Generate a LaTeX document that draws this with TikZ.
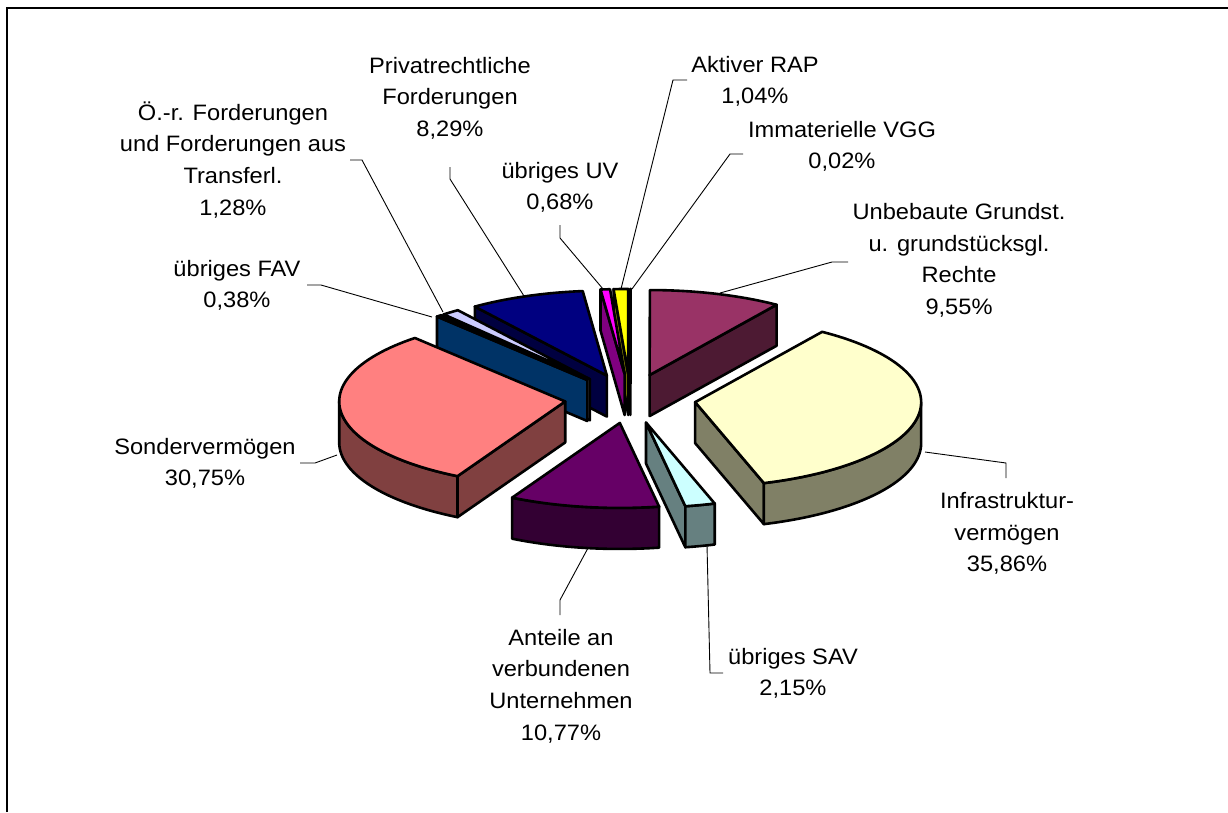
\documentclass[tikz,border=0pt]{standalone}
\usepackage{fontspec}
\setmainfont[FakeStretch=1.06]{Liberation Sans}
\definecolor{imT}{HTML}{9999FF}\definecolor{imS}{HTML}{4D4D80}
\definecolor{unT}{HTML}{993366}\definecolor{unS}{HTML}{4D1A33}
\definecolor{inT}{HTML}{FFFFCC}\definecolor{inS}{HTML}{808066}
\definecolor{saT}{HTML}{CCFFFF}\definecolor{saS}{HTML}{668080}
\definecolor{anT}{HTML}{660066}\definecolor{anS}{HTML}{330033}
\definecolor{soT}{HTML}{FF8080}\definecolor{soS}{HTML}{804040}
\definecolor{faT}{HTML}{0066CC}\definecolor{faS}{HTML}{003366}
\definecolor{orT}{HTML}{CCCCFF}\definecolor{orS}{HTML}{666680}
\definecolor{prT}{HTML}{000080}\definecolor{prS}{HTML}{000040}
\definecolor{uvT}{HTML}{FF00FF}\definecolor{uvS}{HTML}{800080}
\definecolor{raT}{HTML}{FFFF00}\definecolor{raS}{HTML}{808000}
\def\pcx{630.3}\def\pcy{398.6}\def\ra{226}\def\rb{85}\def\ex{0.29}\def\pdep{41}
\newcommand{\setapex}[2]{%
 \pgfmathsetmacro{\ax}{\pcx+\ex*\ra*cos((#1+#2)/2)}%
 \pgfmathsetmacro{\ay}{\pcy-\ex*\rb*sin((#1+#2)/2)}}
\newcommand{\topface}[3]{%
 \filldraw[edge,fill=#3] ({\ax},{\ay}) -- plot[domain=#1:#2,samples=60] ({\ax+\ra*cos(\x)},{\ay-\rb*sin(\x)}) -- cycle;}
\newcommand{\radface}[2]{%
 \filldraw[edge,fill=#2] ({\ax},{\ay}) -- ({\ax+\ra*cos(#1)},{\ay-\rb*sin(#1)}) -- ({\ax+\ra*cos(#1)},{\ay-\rb*sin(#1)+\pdep}) -- ({\ax},{\ay+\pdep}) -- cycle;}
\newcommand{\rimface}[3]{%
 \filldraw[edge,fill=#3] plot[domain=#1:#2,samples=60] ({\ax+\ra*cos(\x)},{\ay-\rb*sin(\x)}) -- plot[domain=#2:#1,samples=60] ({\ax+\ra*cos(\x)},{\ay-\rb*sin(\x)+\pdep}) -- cycle;}
\begin{document}
\begin{tikzpicture}[x=1pt,y=-1pt,
  edge/.style={draw=black,line width=2.6pt,line join=round},
  leader/.style={draw=black,line width=0.9pt},
  lbl/.style={align=center,inner sep=0pt,anchor=base,font=\fontsize{22.3}{31.7}\selectfont}]
\useasboundingbox (0,0) rectangle (1228,812);
\fill[white] (0,0) rectangle (1228,812);
\draw[line width=2pt] (7,812) -- (7,8) -- (1228,8);
% slices, back to front
\setapex{90}{89.93}\radface{89.93}{imS}\topface{90}{89.93}{imT}
\setapex{93.71}{90}\radface{93.71}{raS}\topface{93.71}{90}{raT}
\setapex{96.14}{93.71}\radface{96.14}{uvS}\topface{96.14}{93.71}{uvT}
\setapex{89.93}{55.81}\radface{55.81}{unS}\topface{89.93}{55.81}{unT}
\setapex{125.76}{96.14}\radface{125.76}{prS}\topface{125.76}{96.14}{prT}
\setapex{130.33}{125.76}\radface{130.33}{orS}\topface{130.33}{125.76}{orT}
\setapex{131.69}{130.33}\radface{131.69}{faS}\topface{131.69}{130.33}{faT}
\setapex{55.81}{-72.30}\radface{-72.30}{inS}\rimface{0}{-72.30}{inS}\topface{55.81}{-72.30}{inT}
\setapex{-118.46}{-228.31}\radface{-118.46}{soS}\rimface{-118.46}{-180}{soS}\topface{-118.46}{-228.31}{soT}
\setapex{-72.30}{-79.98}\radface{-79.98}{saS}\rimface{-72.30}{-79.98}{saS}\topface{-72.30}{-79.98}{saT}
\setapex{-79.98}{-118.46}\rimface{-79.98}{-118.46}{anS}\topface{-79.98}{-118.46}{anT}
% labels (anchor = baseline of last line)
\node[lbl] (lPriv) at (450,136.4) {Privatrechtliche\\Forderungen\\8,29\%};
\node[lbl] (lRAP) at (755,103.7) {Aktiver RAP\\1,04\%};
\node[lbl] (lImm) at (842,168.7) {Immaterielle VGG\\0,02\%};
\node[lbl] (lOR) at (233,215.1) {Ö.-r. Forderungen\\und Forderungen aus\\Transferl.\\1,28\%};
\node[lbl] (lUV) at (560,209.7) {übriges UV\\0,68\%};
\node[lbl] (lUnb) at (959,314.6) {Unbebaute Grundst.\\u. grundstücksgl.\\Rechte\\9,55\%};
\node[lbl] (lFAV) at (237,307.7) {übriges FAV\\0,38\%};
\node[lbl] (lSon) at (205,485.7) {Sondervermögen\\30,75\%};
\node[lbl] (lInf) at (1007,571.7) {Infrastruktur-\\vermögen\\35,86\%};
\node[lbl] (lAnt) at (561,740.1) {Anteile an\\verbundenen\\Unternehmen\\10,77\%};
\node[lbl] (lSAV) at (793,695.7) {übriges SAV\\2,15\%};
% leader lines
\coordinate (pA) at (450,167); \coordinate (pB) at (450,179); \coordinate (pC) at (524,296);
\draw[leader] (pA) -- (pB) -- (pC);
\coordinate (oA) at (350,160); \coordinate (oB) at (362,160); \coordinate (oC) at (443,312);
\draw[leader] (oA) -- (oB) -- (oC);
\coordinate (fA) at (307,285); \coordinate (fB) at (321,285); \coordinate (fC) at (432,317);
\draw[leader] (fA) -- (fB) -- (fC);
\coordinate (sA) at (300,463); \coordinate (sB) at (315,463); \coordinate (sC) at (337,455);
\draw[leader] (sA) -- (sB) -- (sC);
\coordinate (uA) at (560,225); \coordinate (uB) at (560,238); \coordinate (uC) at (603,289);
\draw[leader] (uA) -- (uB) -- (uC);
\coordinate (rA) at (687,80); \coordinate (rB) at (673,80); \coordinate (rC) at (621,289);
\draw[leader] (rA) -- (rB) -- (rC);
\coordinate (iA) at (743,154); \coordinate (iB) at (730,154); \coordinate (iC) at (632,289);
\draw[leader] (iA) -- (iB) -- (iC);
\coordinate (gA) at (848,262); \coordinate (gB) at (832,262); \coordinate (gC) at (720,293);
\draw[leader] (gA) -- (gB) -- (gC);
\coordinate (nA) at (1006,478); \coordinate (nB) at (1006,463); \coordinate (nC) at (925,452);
\draw[leader] (nA) -- (nB) -- (nC);
\coordinate (aA) at (560,615); \coordinate (aB) at (560,600); \coordinate (aC) at (588,548);
\draw[leader] (aA) -- (aB) -- (aC);
\coordinate (vA) at (723,673); \coordinate (vB) at (710,673); \coordinate (vC) at (707,545);
\draw[leader] (vA) -- (vB) -- (vC);
\end{tikzpicture}
\end{document}
